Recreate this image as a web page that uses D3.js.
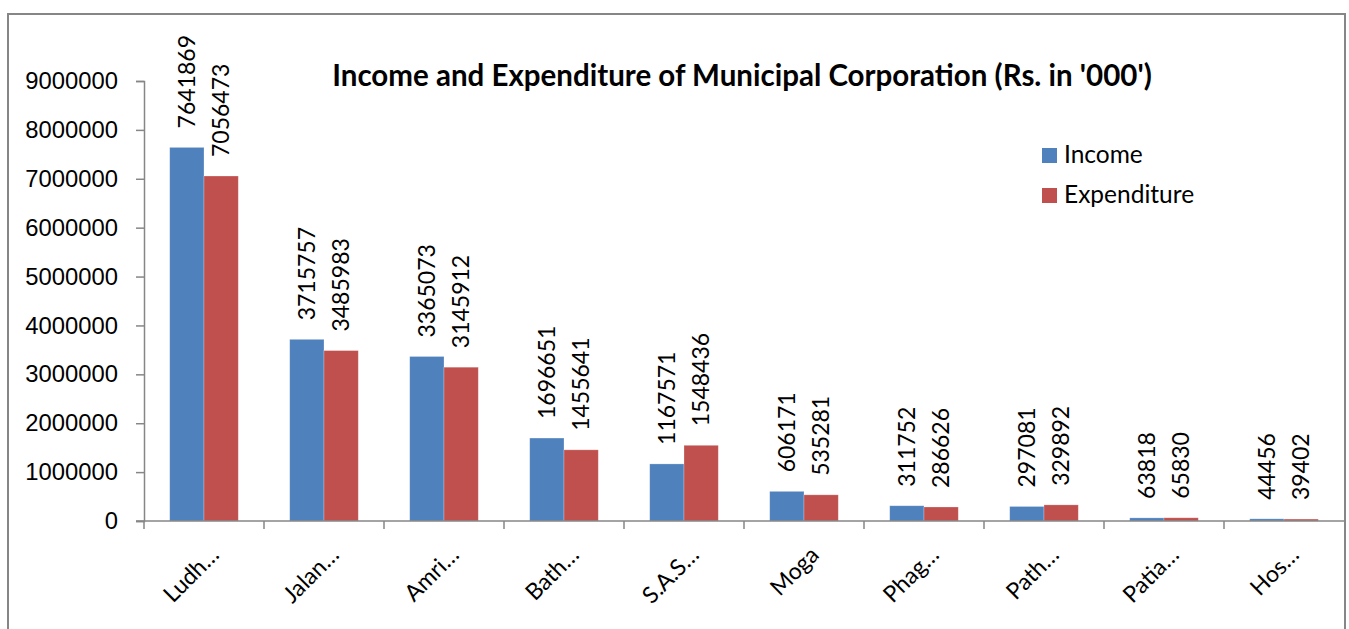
<!DOCTYPE html>
<html>
<head>
<meta charset="utf-8">
<script src="https://cdn.jsdelivr.net/npm/d3@7"></script>
<style>
  body { margin: 0; background: #fff; }
  svg { display: block; font-family: Lato, "Open Sans", sans-serif; }
</style>
</head>
<body>
<svg width="1349" height="629"></svg>
<script>
var categories = ["Ludh…", "Jalan…", "Amri…", "Bath…", "S.A.S…", "Moga", "Phag…", "Path…", "Patia…", "Hos…"];
var income = [7641869, 3715757, 3365073, 1696651, 1167571, 606171, 311752, 297081, 63818, 44456];
var expenditure = [7056473, 3485983, 3145912, 1455641, 1548436, 535281, 286626, 329892, 65830, 39402];
var seriesNames = ["Income", "Expenditure"];
var yTicks = [0, 1000000, 2000000, 3000000, 4000000, 5000000, 6000000, 7000000, 8000000, 9000000];

var loadVis = function() {
    var svg = d3.select("svg");

    var colors = d3.scaleOrdinal()
        .domain(seriesNames)
        .range(["#4f81bd", "#c0504d"]);

    var rows = categories.map(function(c, i) {
        return { cat: c, values: [
            { key: "Income", value: income[i] },
            { key: "Expenditure", value: expenditure[i] }
        ]};
    });

    // outer chart border
    svg.append("rect")
        .attr("x", 8).attr("y", 14)
        .attr("width", 1337).attr("height", 640)
        .attr("fill", "none")
        .attr("stroke", "#868686")
        .attr("stroke-width", 2);

    var x = d3.scaleBand()
        .domain(categories)
        .range([144, 1344]);

    var xInner = d3.scaleBand()
        .domain(seriesNames)
        .range([0, x.bandwidth()])
        .paddingOuter(0.75);

    var y = d3.scaleLinear()
        .domain([0, 9000000])
        .range([521, 81]);

    // y axis
    var yAxis = svg.append("g")
        .attr("transform", "translate(144,0)")
        .call(d3.axisLeft(y).tickValues(yTicks).tickSize(8).tickPadding(18).tickFormat(d3.format("d")));
    yAxis.select(".domain").attr("stroke", "#868686").attr("stroke-width", 1.5);
    yAxis.selectAll(".tick line").attr("stroke", "#868686").attr("stroke-width", 1.5);
    yAxis.selectAll(".tick text")
        .attr("font-size", 23.8)
        .attr("fill", "#000");

    // bars
    var groups = svg.append("g")
        .selectAll("g")
        .data(rows)
        .enter().append("g")
            .attr("transform", function(d) { return "translate(" + x(d.cat) + ",0)"; });

    groups.selectAll("rect")
        .data(function(d) { return d.values; })
        .enter().append("rect")
            .attr("x", function(d) { return xInner(d.key); })
            .attr("y", function(d) { return y(d.value); })
            .attr("width", xInner.bandwidth())
            .attr("height", function(d) { return y(0) - y(d.value); })
            .attr("fill", function(d) { return colors(d.key); })
            .attr("stroke", "#fff")
            .attr("stroke-opacity", 0.35)
            .attr("stroke-width", 0.7);

    groups.selectAll("text")
        .data(function(d) { return d.values; })
        .enter().append("text")
            .attr("transform", function(d) {
                return "translate(" + (xInner(d.key) + xInner.bandwidth() / 2) + "," + (y(d.value) - 19) + ") rotate(-90)";
            })
            .attr("dy", "0.36em")
            .attr("font-size", 23)
            .attr("fill", "#000")
            .text(function(d) { return d.value; });

    // x axis
    var xAxisG = svg.append("g")
        .attr("transform", "translate(0,521)");
    xAxisG.append("line")
        .attr("x1", 136).attr("x2", 1344)
        .attr("stroke", "#868686").attr("stroke-width", 1.5);
    xAxisG.selectAll(".sep")
        .data(categories)
        .enter().append("line")
            .attr("class", "sep")
            .attr("x1", function(d) { return x(d); })
            .attr("x2", function(d) { return x(d); })
            .attr("y1", 0).attr("y2", 8)
            .attr("stroke", "#868686").attr("stroke-width", 1.5);
    xAxisG.selectAll(".lbl")
        .data(categories)
        .enter().append("text")
            .attr("class", "lbl")
            .attr("transform", function(d) {
                return "translate(" + (x(d) + x.bandwidth() / 2 + 5) + ",24) rotate(-45)";
            })
            .attr("text-anchor", "end")
            .attr("dy", "0.7em")
            .attr("font-size", 23)
            .attr("fill", "#000")
            .text(function(d) { return d; });

    // title
    svg.append("text")
        .attr("x", 742).attr("y", 86)
        .attr("text-anchor", "middle")
        .attr("font-size", 29.5)
        .attr("font-weight", "bold")
        .attr("fill", "#000")
        .text("Income and Expenditure of Municipal Corporation (Rs. in '000')");

    // legend
    var legend = svg.append("g")
        .selectAll("g")
        .data(seriesNames)
        .enter().append("g")
            .attr("transform", function(d, i) { return "translate(1042," + (148 + i * 40) + ")"; });
    legend.append("rect")
        .attr("width", 15).attr("height", 15)
        .attr("fill", function(d) { return colors(d); });
    legend.append("text")
        .attr("x", 22).attr("y", 15)
        .attr("font-size", 24.5)
        .attr("fill", "#000")
        .text(function(d) { return d; });
};

document.addEventListener('DOMContentLoaded', loadVis, false);
</script>
</body>
</html>
